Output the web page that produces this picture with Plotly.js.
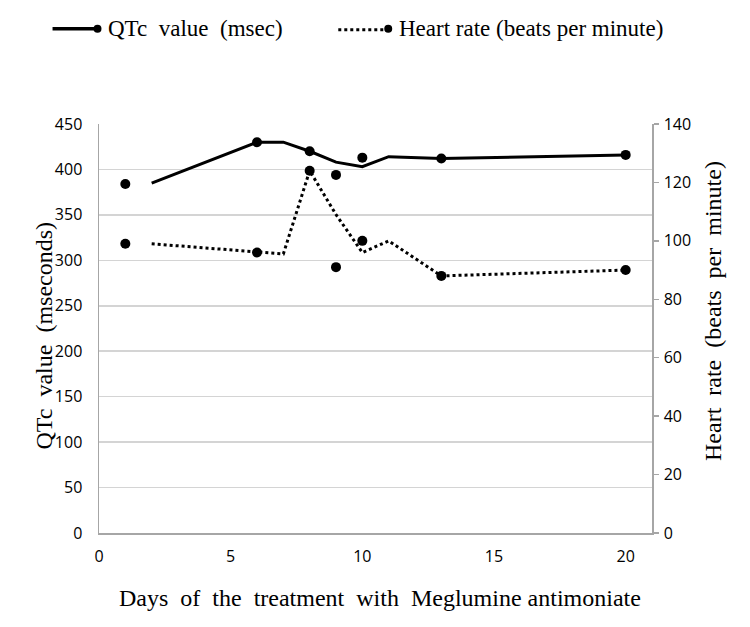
<!DOCTYPE html>
<html>
<head>
<meta charset="utf-8">
<script src="https://cdn.plot.ly/plotly-3.0.1.min.js"></script>
<style>html,body{margin:0;padding:0;background:#fff;}#chart{width:750px;height:627px;}</style>
</head>
<body>
<div id="chart"></div>
<script>
// ---- data ----
const lineDays   = [2, 6, 7, 8, 9, 10, 11, 13, 20];
const qtcLine    = [385, 430, 430, 420, 408, 403, 414, 412, 416];
const hrLine     = [99, 96, 95.5, 124, 109, 96, 100, 88, 90];
const markerDays = [1, 6, 8, 9, 10, 13, 20];
const qtcMarkers = [384, 430, 420, 394, 413, 412, 416];
const hrMarkers  = [99, 96, 124, 91, 100, 88, 90];
const xTicks     = [0, 5, 10, 15, 20];
const yTicks     = [0, 50, 100, 150, 200, 250, 300, 350, 400, 450];
const y2Ticks    = [0, 20, 40, 60, 80, 100, 120, 140];
const legendQtc  = 'QTc\u00a0 value\u00a0 (msec)';
const legendHr   = 'Heart rate (beats per minute)';
const yTitle     = 'QTc\u00a0 value\u00a0 (mseconds)';
const y2Title    = 'Heart\u00a0 rate\u00a0 (beats\u00a0 per\u00a0 minute)';
const xTitle     = 'Days\u00a0 of\u00a0 the\u00a0 treatment\u00a0 with\u00a0 Meglumine antimoniate';

// ---- layout helpers ----
const L = 98.5, R = 652, T = 123.5, B = 533.5;
const px = x => (x - L) / (R - L);
const py = y => (B - y) / (B - T);

const serif = 'Liberation Serif, Times New Roman, serif';
const sans = 'Open Sans, Liberation Sans, sans-serif';

const traces = [
  {x: lineDays, y: qtcLine, type: 'scatter', mode: 'lines',
   line: {color: '#000', width: 3}, yaxis: 'y', showlegend: false, hoverinfo: 'skip'},
  {x: lineDays, y: hrLine, type: 'scatter', mode: 'lines',
   line: {color: '#000', width: 3, dash: 'dot'}, yaxis: 'y2', showlegend: false, hoverinfo: 'skip'},
  {x: markerDays, y: qtcMarkers, type: 'scatter', mode: 'markers',
   marker: {color: '#000', size: 10}, yaxis: 'y', showlegend: false},
  {x: markerDays, y: hrMarkers, type: 'scatter', mode: 'markers',
   marker: {color: '#000', size: 10}, yaxis: 'y2', showlegend: false}
];

const layout = {
  width: 750, height: 627,
  margin: {l: L, r: 750 - R, t: T, b: 627 - B, pad: 0},
  paper_bgcolor: '#fff', plot_bgcolor: '#fff',
  showlegend: false,
  xaxis: {
    range: [0, 21], tickvals: xTicks, ticktext: xTicks.map(String),
    showgrid: false, zeroline: false, showline: true, linecolor: '#a6a6a6', linewidth: 1.5,
    ticks: '', ticklabelstandoff: 8,
    tickfont: {family: sans, size: 16, color: '#000'}
  },
  yaxis: {
    range: [0, 450], tickvals: yTicks, ticktext: yTicks.map(String),
    showgrid: true, gridcolor: '#d4d4d4', gridwidth: 1.5, zeroline: false,
    showline: true, linecolor: '#a6a6a6', linewidth: 1.5,
    ticks: '', ticklabelstandoff: 12,
    tickfont: {family: sans, size: 16, color: '#000'}
  },
  yaxis2: {
    range: [0, 140], tickvals: y2Ticks, ticktext: y2Ticks.map(String),
    overlaying: 'y', side: 'right', showgrid: false, zeroline: false,
    showline: true, linecolor: '#a6a6a6', linewidth: 1.5,
    ticks: 'outside', ticklen: 5, tickcolor: '#a6a6a6', tickwidth: 1.5, ticklabelstandoff: 2,
    tickfont: {family: sans, size: 16, color: '#000'}
  },
  shapes: [
    {type: 'line', xref: 'paper', yref: 'paper', x0: px(52), x1: px(96), y0: py(28), y1: py(28),
     line: {color: '#000', width: 3.5}},
    {type: 'circle', xref: 'paper', yref: 'paper', x0: px(93), x1: px(101), y0: py(24), y1: py(32),
     fillcolor: '#000', line: {color: '#000', width: 0}},
    {type: 'line', xref: 'paper', yref: 'paper', x0: px(338), x1: px(386), y0: py(29), y1: py(29),
     line: {color: '#000', width: 3, dash: 'dot'}},
    {type: 'circle', xref: 'paper', yref: 'paper', x0: px(384), x1: px(392), y0: py(24), y1: py(32),
     fillcolor: '#000', line: {color: '#000', width: 0}}
  ],
  annotations: [
    {text: legendQtc, xref: 'paper', yref: 'paper', x: px(106), y: py(28), xanchor: 'left', yanchor: 'middle',
     showarrow: false, font: {family: serif, size: 23, color: '#000'}},
    {text: legendHr, xref: 'paper', yref: 'paper', x: px(397), y: py(28), xanchor: 'left', yanchor: 'middle',
     showarrow: false, font: {family: serif, size: 23, color: '#000'}},
    {text: yTitle, xref: 'paper', yref: 'paper', x: px(43), y: py(336), xanchor: 'center', yanchor: 'middle',
     textangle: -90, showarrow: false, font: {family: serif, size: 24, color: '#000'}},
    {text: y2Title, xref: 'paper', yref: 'paper', x: px(713), y: py(311), xanchor: 'center', yanchor: 'middle',
     textangle: -90, showarrow: false, font: {family: serif, size: 24, color: '#000'}},
    {text: xTitle, xref: 'paper', yref: 'paper', x: px(380), y: py(599), xanchor: 'center', yanchor: 'middle',
     showarrow: false, font: {family: serif, size: 24, color: '#000'}}
  ]
};

Plotly.newPlot('chart', traces, layout, {displayModeBar: false, staticPlot: true});
</script>
</body>
</html>
